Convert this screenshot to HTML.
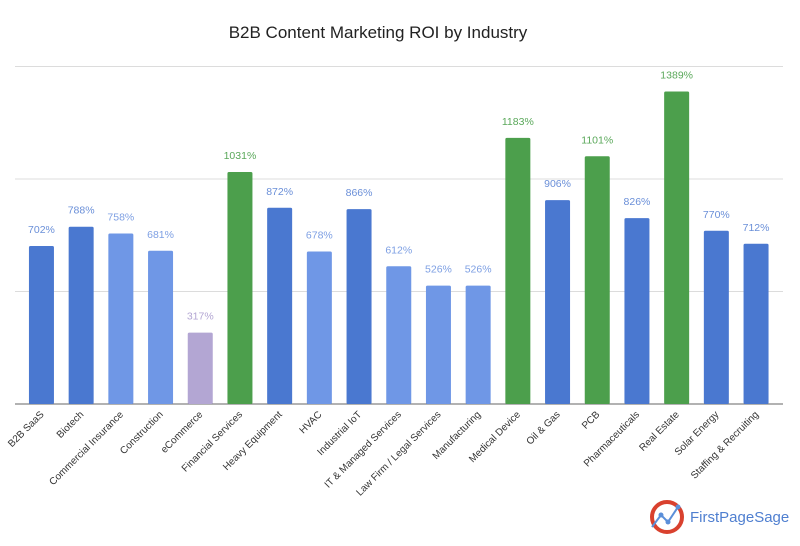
<!DOCTYPE html>
<html><head><meta charset="utf-8"><style>
body{margin:0;background:#fff;width:800px;height:541px;overflow:hidden;font-family:"Liberation Sans",sans-serif}
</style></head><body>
<svg id="chart" width="800" height="541" xmlns="http://www.w3.org/2000/svg">
<text x="378" y="38" text-anchor="middle" font-size="17" fill="#222" font-family="Liberation Sans, sans-serif">B2B Content Marketing ROI by Industry</text>
<g id="grid"></g><g id="bars"></g><g id="labels"></g><g id="xlabels"></g>
<g>
<circle cx="667" cy="517" r="15" fill="none" stroke="#d9412e" stroke-width="4"/>
<path d="M652 527 L661 515 L668 522 L678 507" fill="none" stroke="#5b8fd9" stroke-width="2"/>
<circle cx="661" cy="515" r="2.5" fill="#5b8fd9"/><circle cx="668" cy="522" r="2.5" fill="#5b8fd9"/><circle cx="678" cy="507" r="2.5" fill="#5b8fd9"/>
<text x="690" y="522" font-size="15" fill="#4f7fd0" font-family="Liberation Sans, sans-serif">FirstPageSage</text>
</g>
</svg>
<script>
const categories=["B2B SaaS","Biotech","Commercial Insurance","Construction","eCommerce","Financial Services","Heavy Equipment","HVAC","Industrial IoT","IT & Managed Services","Law Firm / Legal Services","Manufacturing","Medical Device","Oil & Gas","PCB","Pharmaceuticals","Real Estate","Solar Energy","Staffing & Recruiting"];
const values=[702,788,758,681,317,1031,872,678,866,612,526,526,1183,906,1101,826,1389,770,712];
const groups=["d","d","l","l","p","g","d","l","d","l","l","l","g","d","g","d","g","d","d"];
const gridValues=[500,1000,1500];
const NS="http://www.w3.org/2000/svg";
const fill={d:"#4a78d0",l:"#6f97e6",p:"#b3a6d3",g:"#4c9f4c"};
const lab={d:"#6a8fd8",l:"#7d9fe3",p:"#b3a6d3",g:"#5aa85a"};
const y0=404,k=0.225,x0=21.6,step=39.7,bw=25;
const y=v=>y0-v*k, xc=i=>x0+step*(i+0.5);
function mk(t,a,p){const e=document.createElementNS(NS,t);for(const n in a)e.setAttribute(n,a[n]);p.appendChild(e);return e;}
const G=document.getElementById('grid');
gridValues.forEach(v=>{const l=mk('line',{x1:15,x2:783,y1:y(v),y2:y(v),stroke:'#dcdcdc','stroke-width':1},G);

});
const base=mk('line',{x1:15,x2:783,y1:y0,y2:y0,stroke:'#666','stroke-width':1},G);


values.forEach((v,i)=>{
const r=mk('rect',{x:xc(i)-bw/2,y:y(v),width:bw,height:v*k,fill:fill[groups[i]],rx:1.5},document.getElementById('bars'));


const t=mk('text',{x:xc(i),y:y(v)-13,'text-anchor':'middle','font-size':10.5,fill:lab[groups[i]]},document.getElementById('labels'));
t.textContent=v+'%';


const c=mk('text',{x:xc(i)+3,y:y0+11,'text-anchor':'end','font-size':10,fill:'#333',transform:`rotate(-45 ${xc(i)+3} ${y0+11})`},document.getElementById('xlabels'));
c.textContent=categories[i];


});
</script>
</body></html>
